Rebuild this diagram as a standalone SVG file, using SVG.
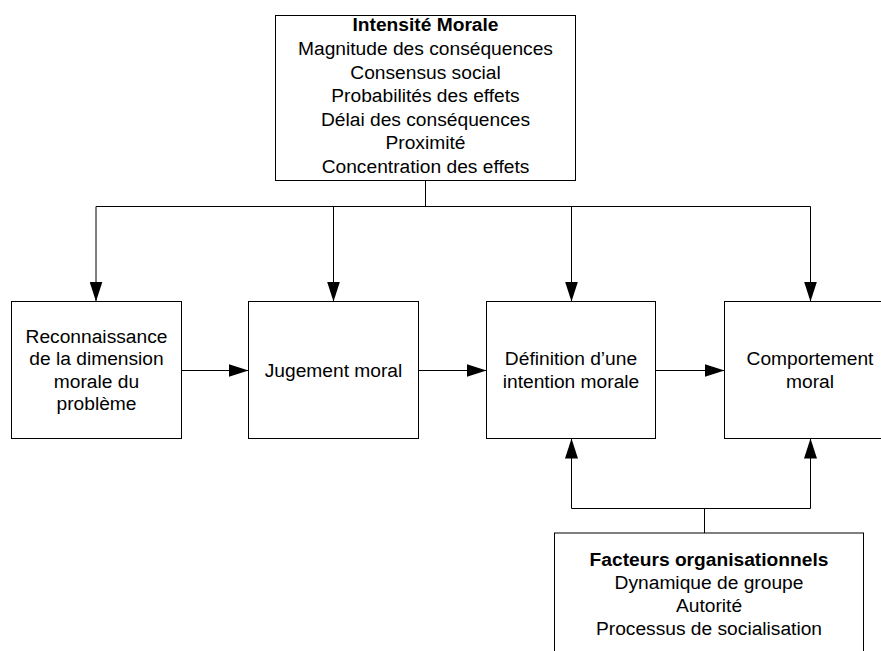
<svg xmlns="http://www.w3.org/2000/svg" width="881" height="651" viewBox="0 0 881 651">
<style>
.box{fill:#fff;stroke:#000;stroke-width:1}
.t{font-family:"Liberation Sans",Arial,sans-serif;font-size:19.2px;fill:#000;text-anchor:middle}
.b{font-weight:bold}
.c{fill:none;stroke:#000;stroke-width:1}
</style>
<defs>
<marker id="ah" markerWidth="20" markerHeight="13" refX="20" refY="6.5" orient="auto" markerUnits="userSpaceOnUse">
<path d="M0,0 L20,6.5 L0,13 Z" fill="#000"/>
</marker>
</defs>
<rect width="881" height="651" fill="#fff"/>
<g id="connectors">
<path class="c" d="M425.5,180 V206.5"/>
<path class="c" d="M96,206.5 H810.5"/>
<path class="c" d="M96,206.5 V301.5" marker-end="url(#ah)"/>
<path class="c" d="M333.5,206.5 V301.5" marker-end="url(#ah)"/>
<path class="c" d="M571.5,206.5 V301.5" marker-end="url(#ah)"/>
<path class="c" d="M810.5,206.5 V301.5" marker-end="url(#ah)"/>
<path class="c" d="M181.5,370.5 H248.5" marker-end="url(#ah)"/>
<path class="c" d="M418.5,370.5 H486.5" marker-end="url(#ah)"/>
<path class="c" d="M655.5,370.5 H724.5" marker-end="url(#ah)"/>
<path class="c" d="M704.5,533 V508.5"/>
<path class="c" d="M571.5,508.5 H810.5"/>
<path class="c" d="M571.5,508.5 V438.5" marker-end="url(#ah)"/>
<path class="c" d="M810.5,508.5 V438.5" marker-end="url(#ah)"/>
</g>
<g id="intensite">
<rect class="box" x="275.5" y="15.5" width="300" height="165"/>
<text class="t b" x="425.5" y="31">Intensité Morale</text>
<text class="t" x="425.5" y="55">Magnitude des conséquences</text>
<text class="t" x="425.5" y="78.5">Consensus social</text>
<text class="t" x="425.5" y="102">Probabilités des effets</text>
<text class="t" x="425.5" y="125.5">Délai des conséquences</text>
<text class="t" x="425.5" y="149">Proximité</text>
<text class="t" x="425.5" y="172.5">Concentration des effets</text>
</g>
<g id="reconnaissance">
<rect class="box" x="11.5" y="301.5" width="170" height="137"/>
<text class="t" x="96.5" y="342.5">Reconnaissance</text>
<text class="t" x="96.5" y="365">de la dimension</text>
<text class="t" x="96.5" y="387.5">morale du</text>
<text class="t" x="96.5" y="410">problème</text>
</g>
<g id="jugement">
<rect class="box" x="248.5" y="301.5" width="170" height="137"/>
<text class="t" x="333.5" y="377">Jugement moral</text>
</g>
<g id="intention">
<rect class="box" x="486.5" y="301.5" width="169" height="137"/>
<text class="t" x="571" y="365">Définition d’une</text>
<text class="t" x="571" y="387.5">intention morale</text>
</g>
<g id="comportement">
<rect class="box" x="724.5" y="301.5" width="170" height="137"/>
<text class="t" x="810" y="365">Comportement</text>
<text class="t" x="810" y="387.5">moral</text>
</g>
<g id="facteurs">
<rect class="box" x="554.5" y="533" width="309" height="140"/>
<text class="t b" x="709" y="566">Facteurs organisationnels</text>
<text class="t" x="709" y="589">Dynamique de groupe</text>
<text class="t" x="709" y="612">Autorité</text>
<text class="t" x="709" y="635">Processus de socialisation</text>
</g>
</svg>
